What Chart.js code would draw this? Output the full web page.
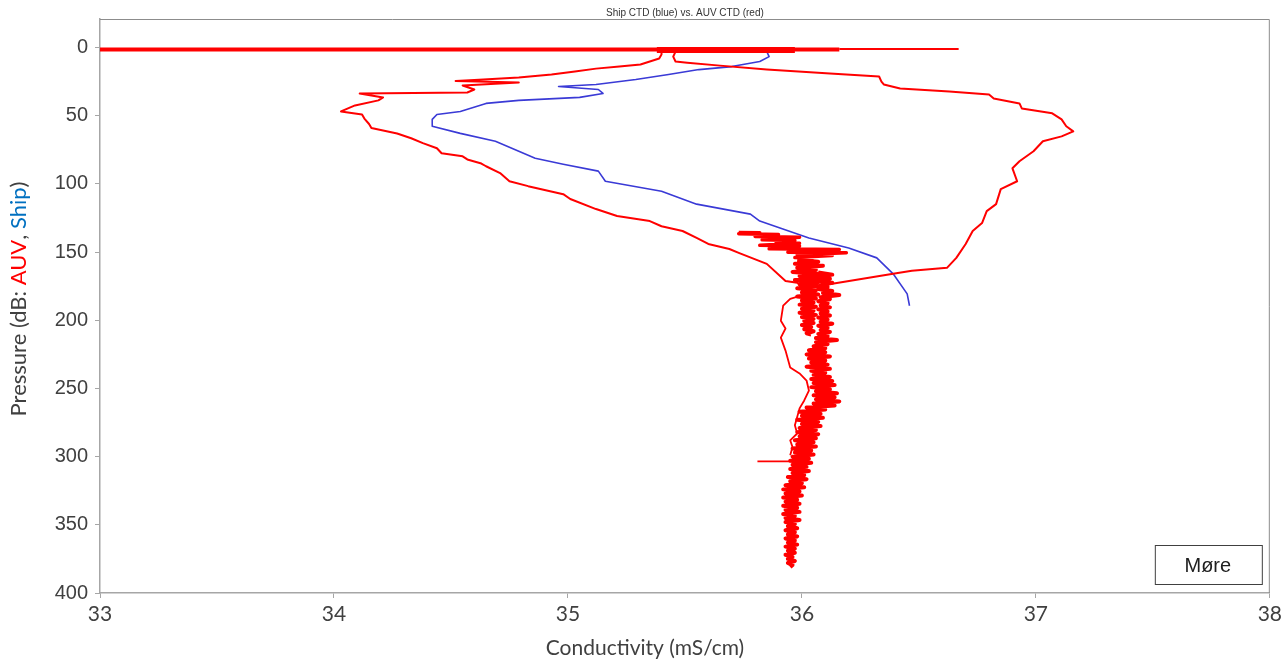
<!DOCTYPE html>
<html>
<head>
<meta charset="utf-8">
<script src="https://cdn.jsdelivr.net/npm/chart.js@4.4.1/dist/chart.umd.min.js"></script>
<style>
  html, body { margin: 0; padding: 0; background: #fff; }
  #wrap { width: 1286px; height: 661px; position: relative; }
</style>
</head>
<body>
<div id="wrap"><canvas id="ctd"></canvas></div>
<script>
// axis ticks
const condTicks = [33, 34, 35, 36, 37, 38];
const pressTicks = [0, 50, 100, 150, 200, 250, 300, 350, 400];

// ship CTD cast (conductivity mS/cm, pressure dB)
const shipCond = [35.85, 35.86, 35.82, 35.70, 35.56, 35.43, 35.29, 35.12, 34.96, 35.13, 35.15, 35.05, 34.79, 34.65, 34.54, 34.44, 34.42, 34.42, 34.54, 34.69, 34.86, 34.98, 35.13, 35.16, 35.40, 35.55, 35.78, 35.82, 36.03, 36.20, 36.32, 36.39, 36.45, 36.46];
const shipPres = [2.9, 6.6, 10.2, 13.9, 16.1, 19.7, 23.4, 27.0, 28.5, 30.7, 33.6, 36.5, 38.7, 40.9, 46.8, 49.0, 52.6, 57.7, 62.9, 68.7, 81.1, 85.5, 90.6, 98.0, 105.3, 114.8, 122.1, 127.2, 139.6, 146.9, 154.2, 165.9, 180.6, 189.3];

// AUV at the surface
const auvSurfCond = [33.00, 36.16];
const auvSurfPres = [1.3, 1.3];
const auvSurfBlobCond = [35.38, 35.97];
const auvSurfBlobPres = [1.8, 1.8];
const auvSurfTailCond = [36.16, 36.67];
const auvSurfTailPres = [1.0, 1.0];

// AUV descent, fresh side
const auvDownCond = [35.40, 35.40, 35.39, 35.31, 35.22, 35.12, 35.03, 34.93, 34.79, 34.62, 34.52, 34.79, 34.55, 34.60, 34.57, 34.11, 34.21, 34.19, 34.09, 34.03, 34.12, 34.13, 34.15, 34.16, 34.27, 34.33, 34.38, 34.44, 34.46, 34.55, 34.57, 34.63, 34.65, 34.71, 34.75, 34.83, 34.98, 35.01, 35.12, 35.21, 35.35, 35.40, 35.49, 35.55, 35.60, 35.69, 35.73, 35.85, 35.93, 35.98, 36.03];
const auvDownPres = [2.9, 5.1, 8.0, 12.4, 13.9, 15.4, 17.5, 19.7, 21.9, 23.6, 24.5, 25.6, 27.8, 30.7, 32.9, 33.6, 36.5, 38.7, 42.4, 46.8, 49.0, 52.0, 56.0, 59.0, 63.0, 66.5, 70.0, 73.8, 77.5, 79.7, 82.0, 85.0, 87.0, 92.0, 98.0, 101.6, 107.5, 111.0, 118.4, 123.5, 127.2, 131.0, 134.5, 139.6, 144.0, 147.7, 150.5, 158.6, 171.1, 172.5, 176.0];

// AUV return, salty side
const auvUpCond = [35.46, 35.45, 35.46, 35.51, 35.65, 35.85, 36.12, 36.33, 36.34, 36.35, 36.42, 36.63, 36.80, 36.82, 36.93, 36.94, 37.07, 37.11, 37.13, 37.16, 37.11, 37.03, 36.99, 36.93, 36.90, 36.92, 36.85, 36.83, 36.79, 36.77, 36.73, 36.70, 36.66, 36.62, 36.47, 36.39, 36.13, 36.08];
const auvUpPres = [2.9, 6.6, 10.2, 11.0, 13.2, 16.1, 19.0, 21.2, 24.9, 27.0, 30.0, 32.2, 34.4, 37.3, 40.9, 44.6, 48.2, 52.6, 57.7, 61.4, 65.1, 68.7, 76.0, 83.3, 88.5, 98.0, 103.8, 114.8, 119.9, 128.7, 134.5, 144.0, 154.2, 161.5, 163.7, 165.9, 173.2, 174.7];

// AUV thin trace on the left of the deep column
const auvLoopCond = [36.02, 35.95, 35.92, 35.91, 35.93, 35.91, 35.93, 35.95, 35.99, 36.02, 36.03, 36.01, 35.99, 35.97, 35.98, 35.95, 35.96, 35.95];
const auvLoopPres = [180.6, 184.2, 189.3, 200.3, 206.0, 212.7, 222.2, 234.6, 239.0, 244.2, 251.5, 258.8, 264.6, 277.0, 283.0, 288.0, 293.0, 299.0];

// AUV spike near 303 dB
const auvStubCond = [35.81, 35.95];
const auvStubPres = [303.4, 303.4];

// AUV noisy cluster at the top of the deep column
const auvClusterCond = [35.73, 35.82, 35.73, 35.90, 35.80, 35.99, 35.83, 35.97, 35.89, 35.99, 35.82, 35.99, 35.86, 36.16, 35.94, 36.19, 35.98, 36.13, 35.97, 36.05];
const auvClusterPres = [135.5, 135.8, 136.5, 137.0, 138.5, 139.0, 141.0, 141.5, 143.0, 143.5, 145.0, 145.5, 147.5, 148.0, 150.0, 150.5, 152.0, 152.5, 154.0, 154.5];

// AUV noisy column, left part (155-210 dB)
const auvColACond = [35.98, 36.07, 35.97, 36.09, 35.98, 36.06, 35.96, 36.08, 35.99, 36.10, 35.97, 36.07, 35.99, 36.08, 35.98, 36.06, 36.00, 36.07, 35.98, 36.06, 36.00, 36.05, 35.99, 36.06, 36.00, 36.05, 35.99, 36.06, 36.00, 36.05, 36.01, 36.05, 36.00, 36.04, 36.01, 36.05, 36.02, 36.04];
const auvColAPres = [155.5, 157.0, 158.5, 160.0, 161.5, 163.0, 164.5, 166.0, 167.5, 169.0, 170.5, 172.0, 173.5, 175.0, 176.5, 178.0, 179.5, 181.0, 182.5, 184.0, 185.5, 187.0, 188.5, 190.0, 191.5, 193.0, 194.5, 196.0, 197.5, 199.0, 200.5, 202.0, 203.5, 205.0, 206.5, 208.0, 209.5, 210.5];

// AUV noisy column, right part and deep section (165-381 dB)
const auvColBCond = [
  36.07, 36.13, 36.08, 36.12, 36.07, 36.13, 36.08, 36.11, 36.07, 36.13, 36.09, 36.16, 36.08, 36.12, 36.07, 36.11, 36.08, 36.12, 36.07, 36.11,
  36.08, 36.12, 36.07, 36.11, 36.08, 36.13, 36.07, 36.11, 36.08, 36.12, 36.07, 36.11, 36.06, 36.15, 36.06, 36.11, 36.05, 36.10, 36.03, 36.10,
  36.02, 36.12, 36.03, 36.10, 36.04, 36.11, 36.02, 36.12, 36.04, 36.10, 36.05, 36.12, 36.04, 36.13, 36.05, 36.14, 36.04, 36.12, 36.06, 36.15,
  36.05, 36.14, 36.06, 36.16, 36.05, 36.14, 36.02, 36.10, 35.99, 36.08, 36.00, 36.09, 35.98, 36.07, 36.00, 36.08, 35.99, 36.06, 35.98, 36.07,
  35.99, 36.06, 35.97, 36.05, 35.98, 36.06, 35.96, 36.04, 35.97, 36.05, 35.96, 36.03, 35.95, 36.04, 35.96, 36.02, 35.95, 36.03, 35.96, 36.01,
  35.94, 36.02, 35.95, 36.00, 35.93, 36.01, 35.92, 35.99, 35.93, 36.00, 35.92, 35.98, 35.93, 35.99, 35.92, 35.98, 35.93, 35.99, 35.92, 35.97,
  35.93, 35.99, 35.93, 35.97, 35.94, 35.98, 35.93, 35.97, 35.94, 35.98, 35.93, 35.97, 35.94, 35.98, 35.93, 35.97, 35.94, 35.97, 35.93, 35.96,
  35.94, 35.97, 35.94, 35.96, 35.95
];
const auvColBPres = [
  165.0, 166.5, 168.0, 169.5, 171.0, 172.5, 174.0, 175.5, 177.0, 178.5, 180.0, 181.5, 183.0, 184.5, 186.0, 187.5, 189.0, 190.5, 192.0, 193.5,
  195.0, 196.5, 198.0, 199.5, 201.0, 202.5, 204.0, 205.5, 207.0, 208.5, 210.0, 211.5, 213.0, 214.5, 216.0, 217.5, 219.0, 220.5, 222.0, 223.5,
  225.0, 226.5, 228.0, 229.5, 231.0, 232.5, 234.0, 235.5, 237.0, 238.5, 240.0, 241.5, 243.0, 244.5, 246.0, 247.5, 249.0, 250.5, 252.0, 253.5,
  255.0, 256.5, 258.0, 259.5, 261.0, 262.5, 264.0, 265.5, 267.0, 268.5, 270.0, 271.5, 273.0, 274.5, 276.0, 277.5, 279.0, 280.5, 282.0, 283.5,
  285.0, 286.5, 288.0, 289.5, 291.0, 292.5, 294.0, 295.5, 297.0, 298.5, 300.0, 301.5, 303.0, 304.5, 306.0, 307.5, 309.0, 310.5, 312.0, 313.5,
  315.0, 316.5, 318.0, 319.5, 321.0, 322.5, 324.0, 325.5, 327.0, 328.5, 330.0, 331.5, 333.0, 334.5, 336.0, 337.5, 339.0, 340.5, 342.0, 343.5,
  345.0, 346.5, 348.0, 349.5, 351.0, 352.5, 354.0, 355.5, 357.0, 358.5, 360.0, 361.5, 363.0, 364.5, 366.0, 367.5, 369.0, 370.5, 372.0, 373.5,
  375.0, 376.5, 378.0, 379.5, 381.0
];

const RED = '#ff0000';
const BLUE = '#3a3ad6';
const TEXT = '#404040';
const AXIS = '#a6a6a6';

function pts(xs, ys) {
  return xs.map((x, i) => ({ x: x, y: ys[i] }));
}

function trace(xs, ys, color, width) {
  return {
    data: pts(xs, ys),
    borderColor: color,
    backgroundColor: color,
    borderWidth: width,
    borderJoinStyle: 'round',
    pointRadius: 0,
    tension: 0,
    fill: false
  };
}

// frame, legend box "Møre" and axis titles
const decorations = {
  id: 'decorations',
  afterDraw(chart) {
    const ctx = chart.ctx;
    const a = chart.chartArea;
    ctx.save();

    ctx.strokeStyle = '#8c8c8c';
    ctx.lineWidth = 1;
    ctx.beginPath();
    ctx.moveTo(a.left, a.top + 0.5);
    ctx.lineTo(a.right - 0.5, a.top + 0.5);
    ctx.lineTo(a.right - 0.5, a.bottom);
    ctx.stroke();

    // station box
    ctx.strokeStyle = '#404040';
    ctx.lineWidth = 1;
    ctx.strokeRect(a.right - 115 + 0.5, a.bottom - 48 + 0.5, 107, 39);
    ctx.fillStyle = '#202020';
    ctx.font = '20px "Liberation Sans", Arial, sans-serif';
    ctx.textAlign = 'center';
    ctx.textBaseline = 'middle';
    ctx.fillText('Møre', a.right - 62, a.bottom - 27);

    // x title
    ctx.fillStyle = TEXT;
    ctx.font = '21px Lato, "Open Sans", sans-serif';
    ctx.fillText('Conductivity (mS/cm)', 645, 648);

    // y title with coloured instrument names
    const parts = [
      ['Pressure (dB: ', TEXT],
      ['AUV', RED],
      [', ', TEXT],
      ['Ship', '#0070c0'],
      [')', TEXT]
    ];
    ctx.font = '22px Lato, "Open Sans", sans-serif';
    const total = parts.reduce((s, p) => s + ctx.measureText(p[0]).width, 0);
    ctx.translate(19, 299);
    ctx.rotate(-Math.PI / 2);
    ctx.textAlign = 'left';
    let pos = -total / 2;
    parts.forEach(p => {
      ctx.fillStyle = p[1];
      ctx.fillText(p[0], pos, 0);
      pos += ctx.measureText(p[0]).width;
    });
    ctx.restore();
  }
};

new Chart(document.getElementById('ctd'), {
  type: 'line',
  data: {
    datasets: [
      trace(auvSurfCond, auvSurfPres, RED, 4),
      trace(auvSurfBlobCond, auvSurfBlobPres, RED, 6),
      trace(auvSurfTailCond, auvSurfTailPres, RED, 2),
      trace(auvDownCond, auvDownPres, RED, 2),
      trace(auvUpCond, auvUpPres, RED, 2),
      trace(auvLoopCond, auvLoopPres, RED, 1.8),
      trace(auvStubCond, auvStubPres, RED, 1.8),
      trace(auvClusterCond, auvClusterPres, RED, 3.5),
      trace(auvColACond, auvColAPres, RED, 4),
      trace(auvColBCond, auvColBPres, RED, 4),
      trace(shipCond, shipPres, BLUE, 1.6)
    ]
  },
  options: {
    responsive: true,
    maintainAspectRatio: false,
    animation: false,
    events: [],
    layout: { padding: { left: 0, right: 16, top: 0, bottom: 0 } },
    plugins: {
      legend: { display: false },
      tooltip: { enabled: false },
      title: {
        display: true,
        fullSize: false,
        text: 'Ship CTD (blue) vs. AUV CTD (red)',
        color: '#333',
        font: { family: '"Liberation Sans", Arial, sans-serif', size: 10, weight: 'normal', lineHeight: 1.2 },
        padding: { top: 5, bottom: 0 }
      }
    },
    scales: {
      x: {
        type: 'linear',
        min: 33,
        max: 38,
        afterBuildTicks: s => { s.ticks = condTicks.map(v => ({ value: v })); },
        afterFit: s => { s.height = 68; },
        border: { display: true, color: AXIS, width: 1.5 },
        grid: { display: true, drawOnChartArea: false, drawTicks: true, tickLength: 5, color: AXIS },
        ticks: {
          color: TEXT,
          padding: 4,
          maxRotation: 0,
          font: { family: 'Lato, "Open Sans", sans-serif', size: 21 }
        }
      },
      y: {
        type: 'linear',
        reverse: true,
        min: -21,
        max: 400,
        afterBuildTicks: s => { s.ticks = pressTicks.map(v => ({ value: v })); },
        afterFit: s => { s.width = 100; },
        border: { display: true, color: AXIS, width: 1.5 },
        grid: { display: true, drawOnChartArea: false, drawTicks: true, tickLength: 5, color: AXIS },
        ticks: {
          color: TEXT,
          padding: 7,
          font: { family: '"Liberation Sans", Arial, sans-serif', size: 20 }
        }
      }
    }
  },
  plugins: [decorations]
});
</script>
</body>
</html>
